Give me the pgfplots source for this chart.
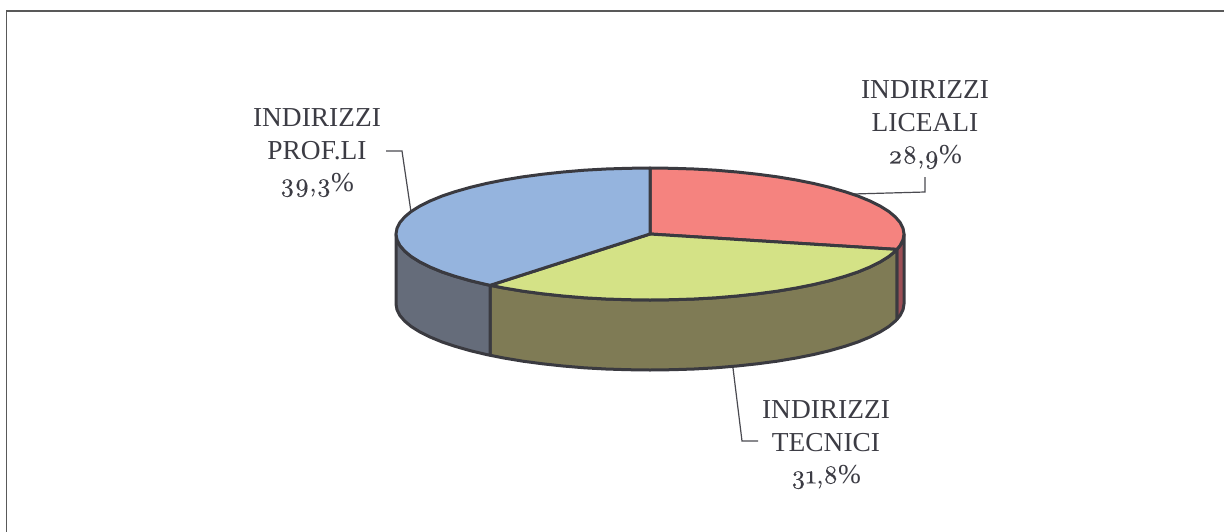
\documentclass[border=0pt]{standalone}
\usepackage{fontspec}
\setmainfont{Liberation Serif}
\newfontfamily\numfont{Latin Modern Roman}[Numbers=OldStyle, OpticalSize=10, FakeBold=0.25]
\usepackage{pgfplots}
\pgfplotsset{compat=1.18}
\definecolor{redtop}{HTML}{F5837F}
\definecolor{redside}{HTML}{9C4F56}
\definecolor{greentop}{HTML}{D4E286}
\definecolor{greenside}{HTML}{7F7B55}
\definecolor{bluetop}{HTML}{95B4DE}
\definecolor{blueside}{HTML}{656C7A}
\definecolor{edgec}{HTML}{3A3A40}
\definecolor{leadc}{HTML}{4A4A50}
\definecolor{txt}{HTML}{3C3C44}
\begin{document}
\begin{tikzpicture}
\path[use as bounding box] (0,0) rectangle (1224pt,531pt);
\begin{axis}[
  scale only axis, width=1224pt, height=531pt,
  xmin=0, xmax=1224, ymin=0, ymax=531, y dir=reverse,
  axis lines=none, anchor=south west, at={(0,0)},
]
% frame
\addplot[no marks, draw=black!65, line width=1.6pt] coordinates {(6.5,560) (6.5,11) (1240,11)};
% leader lines
\addplot[no marks, draw=leadc, line width=1.2pt] coordinates {(386,151) (402,151) (411,212)};
\addplot[no marks, draw=leadc, line width=1.2pt] coordinates {(853,194) (925,192) (925,177)};
\addplot[no marks, draw=leadc, line width=1.2pt] coordinates {(733,368) (742,441) (758,441)};
% side of the red slice
\addplot[no marks, fill=redside, draw=edgec, line width=3pt, line join=round] coordinates {
(904,234) (903,239.8) (900.1,245.5) (896.9,249.4)
(896.9,319.4) (900.1,315.5) (903,309.8) (904,304)} -- cycle;
% side of the green slice
\addplot[no marks, fill=greenside, draw=edgec, line width=3pt, line join=round] coordinates {
(896.9,249.4) (895.3,251.1) (888.7,256.6) (880.2,261.9) (870,267) (858.1,271.9) (844.6,276.4) (829.6,280.7) (813.3,284.6) (795.7,288.1) (777,291.2) (757.3,293.8) (736.9,296) (715.7,297.8) (694.1,299) (672.1,299.7) (650,300) (627.9,299.7) (605.9,299) (584.3,297.8) (563.1,296) (542.7,293.8) (523,291.2) (504.3,288.1) (490.2,285.3)
(490.2,355.3) (504.3,358.1) (523,361.2) (542.7,363.8) (563.1,366) (584.3,367.8) (605.9,369) (627.9,369.7) (650,370) (672.1,369.7) (694.1,369) (715.7,367.8) (736.9,366) (757.3,363.8) (777,361.2) (795.7,358.1) (813.3,354.6) (829.6,350.7) (844.6,346.4) (858.1,341.9) (870,337) (880.2,331.9) (888.7,326.6) (895.3,321.1) (896.9,319.4)} -- cycle;
% side of the blue slice
\addplot[no marks, fill=blueside, draw=edgec, line width=3pt, line join=round] coordinates {
(490.2,285.3) (486.7,284.6) (470.4,280.7) (455.4,276.4) (441.9,271.9) (430,267) (419.8,261.9) (411.3,256.6) (404.7,251.1) (399.9,245.5) (397,239.8) (396,234)
(396,304) (397,309.8) (399.9,315.5) (404.7,321.1) (411.3,326.6) (419.8,331.9) (430,337) (441.9,341.9) (455.4,346.4) (470.4,350.7) (486.7,354.6) (490.2,355.3)} -- cycle;
% top: red
\addplot[no marks, fill=redtop, draw=edgec, line width=3pt, line join=round] coordinates {
(650,234) (650,168) (672.1,168.3) (694.1,169) (715.7,170.2) (736.9,172) (757.3,174.2) (777,176.8) (795.7,179.9) (813.3,183.4) (829.6,187.3) (844.6,191.6) (858.1,196.1) (870,201) (880.2,206.1) (888.7,211.4) (895.3,216.9) (900.1,222.5) (903,228.2) (904,234) (903,239.8) (900.1,245.5) (896.9,249.4)} -- cycle;
% top: green
\addplot[no marks, fill=greentop, draw=edgec, line width=3pt, line join=round] coordinates {
(650,234) (896.9,249.4) (895.3,251.1) (888.7,256.6) (880.2,261.9) (870,267) (858.1,271.9) (844.6,276.4) (829.6,280.7) (813.3,284.6) (795.7,288.1) (777,291.2) (757.3,293.8) (736.9,296) (715.7,297.8) (694.1,299) (672.1,299.7) (650,300) (627.9,299.7) (605.9,299) (584.3,297.8) (563.1,296) (542.7,293.8) (523,291.2) (504.3,288.1) (490.2,285.3)} -- cycle;
% top: blue
\addplot[no marks, fill=bluetop, draw=edgec, line width=3pt, line join=round] coordinates {
(650,234) (490.2,285.3) (486.7,284.6) (470.4,280.7) (455.4,276.4) (441.9,271.9) (430,267) (419.8,261.9) (411.3,256.6) (404.7,251.1) (399.9,245.5) (397,239.8) (396,234) (397,228.2) (399.9,222.5) (404.7,216.9) (411.3,211.4) (419.8,206.1) (430,201) (441.9,196.1) (455.4,191.6) (470.4,187.3) (486.7,183.4) (504.3,179.9) (523,176.8) (542.7,174.2) (563.1,172) (584.3,170.2) (605.9,169) (627.9,168.3) (650,168)} -- cycle;
% labels
\node[text=txt, align=center, font=\fontsize{27.4}{32.3}\selectfont] at (axis cs:317,153) {INDIRIZZI\\PROF.LI\\{\fontsize{26}{32.3}\selectfont\numfont 39,3}\%};
\node[text=txt, align=center, font=\fontsize{27.4}{32.3}\selectfont] at (axis cs:925,125) {INDIRIZZI\\LICEALI\\{\fontsize{26}{32.3}\selectfont\numfont 28,9}\%};
\node[text=txt, align=center, font=\fontsize{27.4}{32.3}\selectfont] at (axis cs:826,445) {INDIRIZZI\\TECNICI\\{\fontsize{26}{32.3}\selectfont\numfont 31,8}\%};
\end{axis}
\end{tikzpicture}
\end{document}
